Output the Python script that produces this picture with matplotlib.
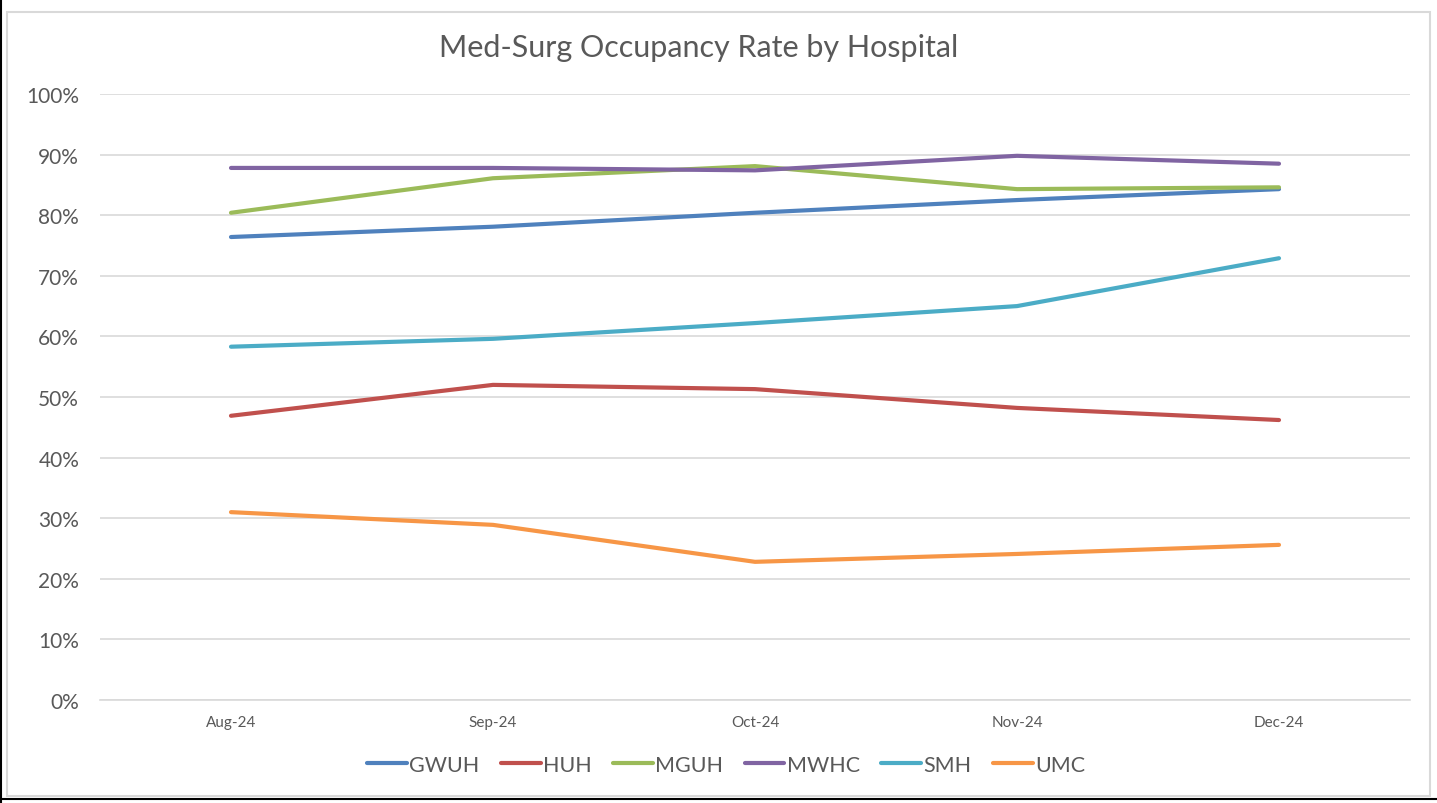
import matplotlib.pyplot as plt
from matplotlib.patches import Rectangle
from matplotlib.lines import Line2D
from matplotlib.ticker import PercentFormatter

months = ["Aug-24", "Sep-24", "Oct-24", "Nov-24", "Dec-24"]
gwuh = [76.4, 78.1, 80.4, 82.5, 84.3]
huh = [46.9, 52.0, 51.3, 48.2, 46.2]
mguh = [80.4, 86.1, 88.1, 84.3, 84.6]
mwhc = [87.8, 87.8, 87.4, 89.8, 88.5]
smh = [58.3, 59.6, 62.2, 65.0, 72.9]
umc = [31.0, 28.9, 22.8, 24.1, 25.6]

names = ["GWUH", "HUH", "MGUH", "MWHC", "SMH", "UMC"]
series = [gwuh, huh, mguh, mwhc, smh, umc]
colors = ["#4F81BD", "#C0504D", "#9BBB59", "#8064A2", "#4BACC6", "#F79646"]

plt.rcParams['font.family'] = ['Lato', 'DejaVu Sans']
txt = "#595959"

fig = plt.figure(figsize=(14.37, 8.04), dpi=100)
ax = fig.add_axes([100 / 1437, 1 - 701 / 804, 1310 / 1437, 606 / 804])

# chart frame + outer black edge
fig.patches.append(Rectangle((7 / 1437, 7 / 804), 1423 / 1437, 784 / 804,
                             transform=fig.transFigure, fill=False,
                             edgecolor="#D9D9D9", lw=1.5))
fig.add_artist(Line2D([0.001, 0.001], [0, 1], color="black", lw=1.5))
fig.add_artist(Line2D([0, 1], [4 / 804, 4 / 804], color="black", lw=1.5))

x = list(range(len(months)))
for name, vals, c in zip(names, series, colors):
    ax.plot(x, vals, color=c, lw=3, label=name, solid_capstyle="round")

ax.set_xlim(-0.5, 4.5)
ax.set_ylim(0, 100)
ax.set_yticks(range(0, 101, 10))
ax.yaxis.set_major_formatter(PercentFormatter(decimals=0))
ax.set_xticks(x)
ax.set_xticklabels(months)
ax.grid(axis="y", color="#D9D9D9", lw=1.2)
ax.set_axisbelow(True)
for s in ["top", "right", "left"]:
    ax.spines[s].set_visible(False)
ax.spines["bottom"].set_color("#D9D9D9")
ax.spines["bottom"].set_linewidth(1.2)
ax.tick_params(axis="y", length=0, labelsize=15, labelcolor=txt, pad=15)
ax.tick_params(axis="x", length=0, labelsize=11, labelcolor=txt, pad=11)

fig.text(699 / 1437, 1 - 48 / 804, "Med-Surg Occupancy Rate by Hospital",
         ha="center", va="center", fontsize=22, color=txt)

fig.legend(loc="center", bbox_to_anchor=(726 / 1437, 1 - 766 / 804), ncol=6,
           frameon=False, fontsize=15.5, labelcolor=txt, handlelength=1.85,
           handletextpad=0.1, columnspacing=1.0)

fig.savefig("out.png", dpi=100)
